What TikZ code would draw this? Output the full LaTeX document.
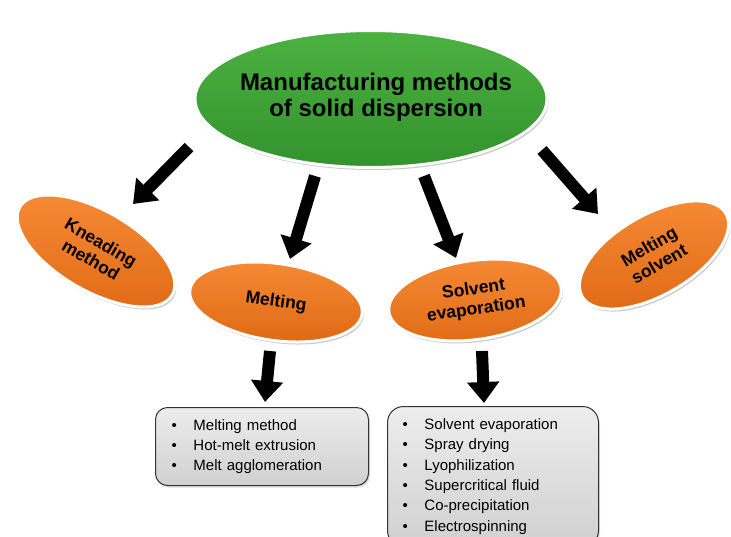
\documentclass[tikz,border=0pt]{standalone}
\usepackage{fontspec}
\setmainfont{Liberation Sans}
\usetikzlibrary{shapes.geometric,arrows.meta,shadows}
\definecolor{grnT}{HTML}{4BB240}
\definecolor{grnM}{HTML}{3FA535}
\definecolor{grnB}{HTML}{33922D}
\definecolor{orT}{HTML}{F78B36}
\definecolor{orM}{HTML}{F47A20}
\definecolor{orB}{HTML}{E06A15}
\definecolor{boxT}{HTML}{EDEDED}
\definecolor{boxB}{HTML}{D0D0D0}
\begin{document}
\begin{tikzpicture}[x=1pt,y=-1pt,
  ell/.style={ellipse, draw=white, line width=3pt, inner sep=0pt, align=center,
    drop shadow={shadow xshift=1.5pt, shadow yshift=-2.5pt, opacity=0.35, fill=black!60}},
  mainell/.style={ell, top color=grnT, middle color=grnM, bottom color=grnB,
    font=\fontsize{24}{27}\selectfont\bfseries},
  subell/.style={ell, top color=orT, middle color=orM, bottom color=orB,
    font=\fontsize{17.5}{20}\selectfont\bfseries},
  listbox/.style={rectangle, rounded corners=12pt, draw=black!80, line width=1pt,
    top color=boxT, bottom color=boxB, anchor=north west, align=left,
    inner ysep=2pt, font=\fontsize{15}{20.3}\selectfont,
    drop shadow={shadow xshift=1.5pt, shadow yshift=-2pt, opacity=0.25}},
  bigarrow/.style={line width=12pt, -{Triangle[width=31pt,length=21pt]}}]
\useasboundingbox (0,0) rectangle (731,536);
\clip (0,0) rectangle (731,536);
\fill[white] (0,0) rectangle (731,536);

\node[mainell, minimum width=352pt, minimum height=137pt] (main) at (371,99)
  {\raisebox{8pt}{\makebox[0pt]{\hspace*{10pt}\shortstack{Manufacturing methods\\[0pt]of solid dispersion}}}};

\node[subell, rotate=-30, minimum width=176pt, minimum height=80pt] (knead) at (96,251)
  {Kneading\\method};
\node[subell, rotate=-8, minimum width=174pt, minimum height=77pt] (melt) at (276,302)
  {Melting};
\node[subell, rotate=8, minimum width=174pt, minimum height=79pt] (solv) at (475,300)
  {Solvent\\evaporation};
\node[subell, rotate=30, minimum width=166pt, minimum height=80pt] (msolv) at (654,255)
  {Melting\\solvent};

\node[listbox, minimum width=213pt, minimum height=78pt, text width=181pt, inner xsep=16pt] (meltbox) at (155,407)
  {\makebox[22pt][l]{\textbullet}Melting method\\
   \makebox[22pt][l]{\textbullet}Hot-melt extrusion\\
   \makebox[22pt][l]{\textbullet}Melt agglomeration};
\node[listbox, rounded corners=16pt, minimum width=211pt, minimum height=140pt, text width=181pt, inner xsep=15pt] (solvbox) at (387,406)
  {\makebox[22pt][l]{\textbullet}Solvent evaporation\\
   \makebox[22pt][l]{\textbullet}Spray drying\\
   \makebox[22pt][l]{\textbullet}Lyophilization\\
   \makebox[22pt][l]{\textbullet}Supercritical fluid\\
   \makebox[22pt][l]{\textbullet}Co-precipitation\\
   \makebox[22pt][l]{\textbullet}Electrospinning};

\coordinate (a1s) at (189,147);
\coordinate (a1e) at (133,204);
\coordinate (a2s) at (315,176);
\coordinate (a2e) at (290,259);
\coordinate (a3s) at (424,176);
\coordinate (a3e) at (456,258);
\coordinate (a4s) at (542,150);
\coordinate (a4e) at (598,214);
\coordinate (a5s) at (270,351);
\coordinate (a5e) at (265,402);
\coordinate (a6s) at (482,351);
\coordinate (a6e) at (484,403);

\draw[bigarrow] (a1s) -- (a1e);
\draw[bigarrow] (a2s) -- (a2e);
\draw[bigarrow] (a3s) -- (a3e);
\draw[bigarrow] (a4s) -- (a4e);
\draw[bigarrow] (a5s) -- (a5e);
\draw[bigarrow] (a6s) -- (a6e);
\end{tikzpicture}
\end{document}
